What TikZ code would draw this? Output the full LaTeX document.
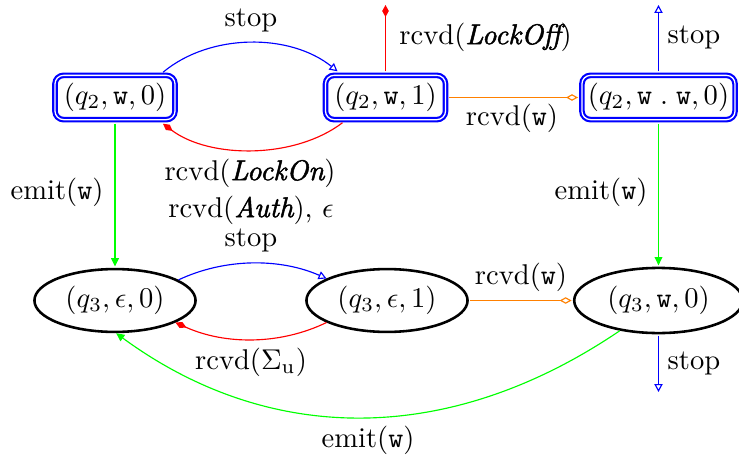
\documentclass[tikz,border=0pt]{standalone}
\usepackage{fontspec}
\usetikzlibrary{arrows.meta,shapes.geometric,calc}
\definecolor{lgreen}{RGB}{0,255,0}
\definecolor{lorange}{RGB}{255,128,0}
\newfontface\lmbi{lmroman10-italic.otf}[FakeBold=1.7]
\newcommand{\sbi}[1]{{\lmbi #1}}
\begin{document}
\begin{tikzpicture}[x=0.35pt,y=-0.35pt,
  acc/.style={draw=blue, double=white, double distance=0.45pt, line width=0.75pt,
    rounded corners=3pt, minimum height=15.5pt, inner sep=1pt},
  st/.style={draw=black, ellipse, line width=0.9pt, minimum height=22pt, inner sep=0pt},
  ed/.style={line width=0.4pt},
  otri/.style={-{Triangle[open,length=2.8pt,width=2.9pt]}},
  ftri/.style={-{Triangle[length=2.9pt,width=2.7pt]}},
  fdia/.style={-{Diamond[length=4.2pt,width=2.3pt]}},
  odia/.style={-{Diamond[open,length=4.2pt,width=2.3pt]}},
  lbl/.style={inner sep=1pt}]
\useasboundingbox (0,0) rectangle (739,461);
\clip (0,0) rectangle (739,461);
% states
\node[acc, minimum width=42pt] (A) at (115,97.5) {$(q_2,\mathtt{w},0)$};
\node[acc, minimum width=42pt] (B) at (385.5,97.5) {$(q_2,\mathtt{w},1)$};
\node[acc, minimum width=53.6pt] (C) at (658.5,97.5) {$(q_2,\mathtt{w}\;.\;\mathtt{w},0)$};
\node[st, minimum width=56.4pt] (D) at (115,300.5) {$(q_3,\epsilon,0)$};
\node[st, minimum width=56.4pt] (E) at (387,300.5) {$(q_3,\epsilon,1)$};
\node[st, minimum width=59pt, minimum height=22.8pt] (F) at (658.5,300.5) {$(q_3,\mathtt{w},0)$};
% free ends
\coordinate (Bup) at (385.5,5);
\coordinate (Cup) at (658.5,5);
\coordinate (Fdn) at (658.5,392);
% connectors
\draw[ed, blue, otri] ($(A.north)+(48,-2)$) .. controls (210,33) and (290,33) .. ($(B.north)+(-48,-3)$);
\draw[ed, red, fdia] ($(B.south)+(-43,2)$) .. controls (295,159) and (210,159) .. ($(A.south)+(48,3)$);
\draw[ed, red, fdia, shorten <=1pt] (B.north) -- (Bup);
\draw[ed, lorange, odia, shorten <=1pt, shorten >=1pt] (B.east) -- (C.west);
\draw[ed, blue, otri, shorten <=1pt] (C.north) -- (Cup);
\draw[ed, lgreen, ftri, shorten <=1pt, shorten >=0.45pt] (A.south) -- (D.north);
\draw[ed, lgreen, ftri, shorten <=1pt, shorten >=0.45pt] (C.south) -- (F.north);
\draw[ed, blue, otri] (D.18) .. controls (225,258) and (280,258) .. (E.160);
\draw[ed, red, fdia] (E.200) .. controls (280,345) and (225,345) .. (D.-20);
\draw[ed, lorange, odia, shorten <=0.45pt, shorten >=0.45pt] (E.east) -- (F.west);
\draw[ed, blue, otri, shorten <=0.45pt] (F.south) -- (Fdn);
\draw[ed, lgreen, ftri] (F.218) .. controls (450,446) and (270,446) .. (D.-88);
% labels
\node[lbl] (l1) at (251,20) {stop};
\node[lbl, anchor=west] (l2) at (396,37) {rcvd(\sbi{LockOff})};
\node[lbl] (l3) at (694,37) {stop};
\node[lbl] (l4) at (512,118) {rcvd($\mathtt{w}$)};
\node[lbl] (l5) at (57,192) {emit($\mathtt{w}$)};
\node[lbl] (l6) at (601,192) {emit($\mathtt{w}$)};
\node[lbl] (l7) at (250,173) {rcvd(\sbi{LockOn})};
\node[lbl] (l8) at (251,210) {rcvd(\sbi{Auth}), $\epsilon$};
\node[lbl] (l9) at (251,240) {stop};
\node[lbl] (l10) at (521,277) {rcvd($\mathtt{w}$)};
\node[lbl] (l11) at (694,363) {stop};
\node[lbl] (l12) at (251,362) {rcvd($\Sigma_{\mathrm{u}}$)};
\node[lbl] (l13) at (368,440) {emit($\mathtt{w}$)};
\end{tikzpicture}
\end{document}
